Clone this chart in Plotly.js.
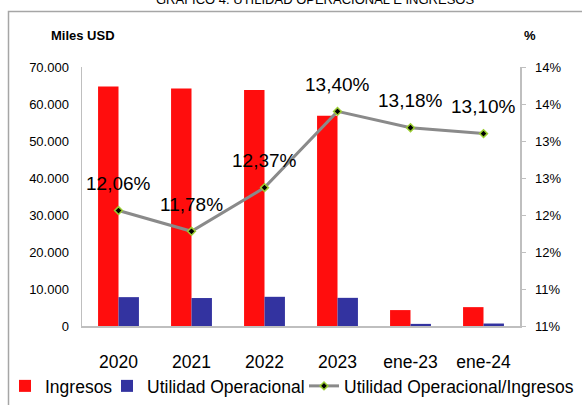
<!DOCTYPE html>
<html>
<head>
<meta charset="utf-8">
<script src="https://cdn.plot.ly/plotly-3.0.1.min.js"></script>
<style>html,body{margin:0;padding:0;background:#fff;}#chart{width:582px;height:405px;}</style>
</head>
<body>
<div id="chart"></div>
<script>
const categories = ['2020', '2021', '2022', '2023', 'ene-23', 'ene-24'];
const ingresos = [64700, 64200, 63800, 56800, 4300, 5100];
const utilidad = [7800, 7560, 7890, 7610, 570, 670];
const ratioPct = [12.06, 11.78, 12.37, 13.40, 13.18, 13.10];
const rightTickVals = [10.5, 11, 11.5, 12, 12.5, 13, 13.5, 14];
const rightTickText = ['11%', '11%', '12%', '12%', '13%', '13%', '14%', '14%'];
const seriesNames = ['Ingresos', 'Utilidad Operacional', 'Utilidad Operacional/Ingresos'];
const titleText = 'GRÁFICO 4. UTILIDAD OPERACIONAL E INGRESOS';

const FONT = '"Liberation Sans", Arial, sans-serif';
const W = 582, H = 405, L = 82, R = 62, T = 67, B = 79;
const PW = W - L - R, PH = H - T - B;
const px = p => (p - L) / PW;
const py = p => (H - B - p) / PH;

const traces = [
  {type: 'bar', name: seriesNames[0], x: categories, y: ingresos,
   marker: {color: '#ff0d0d'}, legend: 'legend', hoverinfo: 'skip'},
  {type: 'bar', name: seriesNames[1], x: categories, y: utilidad,
   marker: {color: '#3333a0'}, legend: 'legend2', hoverinfo: 'skip'},
  {type: 'scatter', mode: 'lines+markers', name: seriesNames[2], x: categories, y: ratioPct,
   yaxis: 'y2', line: {color: '#8a8a8a', width: 3},
   marker: {symbol: 'diamond', size: 6, color: '#000000', line: {color: '#9acd32', width: 1.5}},
   legend: 'legend3', hoverinfo: 'skip'}
];

const annotations = ratioPct.map((v, i) => ({
  x: i, y: v, xref: 'x', yref: 'y2',
  text: v.toFixed(2).replace('.', ',') + '%', showarrow: false,
  yshift: 27, xanchor: 'center', yanchor: 'middle',
  font: {family: FONT, size: 19, color: '#000'}
}));
annotations.push({
  x: px(83), y: py(35.5), xref: 'paper', yref: 'paper', text: '<b>Miles USD</b>',
  showarrow: false, xanchor: 'center', yanchor: 'middle',
  font: {family: FONT, size: 13, color: '#000'}
});
annotations.push({
  x: px(530), y: py(35.5), xref: 'paper', yref: 'paper', text: '<b>%</b>',
  showarrow: false, xanchor: 'center', yanchor: 'middle',
  font: {family: FONT, size: 13, color: '#000'}
});
annotations.push({
  x: px(315), y: py(9), xref: 'paper', yref: 'paper', text: titleText,
  showarrow: false, xanchor: 'center', yanchor: 'bottom',
  font: {family: FONT, size: 13, color: '#000'}
});

const legendBase = {orientation: 'h', yanchor: 'middle', xanchor: 'left',
  y: py(386), bgcolor: 'rgba(0,0,0,0)', font: {family: FONT, size: 17.5, color: '#000'},
  itemwidth: 30, traceorder: 'normal'};

const layout = {
  width: W, height: H,
  margin: {l: L, r: R, t: T, b: B, autoexpand: false},
  paper_bgcolor: '#fff', plot_bgcolor: '#fff',
  separators: ',.',
  barmode: 'group', bargap: 0.44, bargroupgap: 0,
  font: {family: FONT, color: '#000'},
  xaxis: {type: 'category', showgrid: false, zeroline: false,
    showline: true, linecolor: '#bfbfbf', linewidth: 1.5, ticks: '',
    tickfont: {family: FONT, size: 17.5, color: '#000'}, ticklabelstandoff: 19},
  yaxis: {range: [0, 70000], dtick: 10000, tickformat: ',.0f', showgrid: false, zeroline: false,
    showline: true, linecolor: '#bfbfbf', linewidth: 1.5, ticks: '',
    tickfont: {family: FONT, size: 13, color: '#000'}, ticklabelstandoff: 9},
  yaxis2: {overlaying: 'y', side: 'right', range: [10.5, 14],
    tickvals: rightTickVals, ticktext: rightTickText, showgrid: false, zeroline: false,
    showline: true, linecolor: '#bfbfbf', linewidth: 1.5, ticks: 'outside', ticklen: 4,
    tickcolor: '#bfbfbf', tickfont: {family: FONT, size: 13, color: '#000'}, ticklabelstandoff: 7},
  showlegend: true,
  legend: Object.assign({}, legendBase, {x: px(5)}),
  legend2: Object.assign({}, legendBase, {x: px(107)}),
  legend3: Object.assign({}, legendBase, {x: px(304)}),
  annotations: annotations,
  shapes: [{type: 'rect', xref: 'paper', yref: 'paper',
    x0: px(8.5), x1: px(600), y0: py(440), y1: py(11.5),
    line: {color: '#a6a6a6', width: 1.5}, fillcolor: 'rgba(0,0,0,0)', layer: 'below'}]
};

Plotly.newPlot('chart', traces, layout, {displayModeBar: false, staticPlot: true});
</script>
</body>
</html>
